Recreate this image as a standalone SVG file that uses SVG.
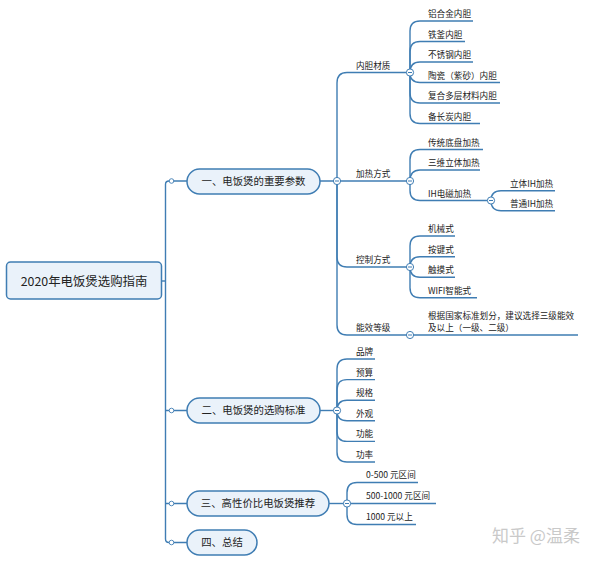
<svg xmlns="http://www.w3.org/2000/svg" width="600" height="561" viewBox="0 0 600 561">
<defs>
<style>
.ln{fill:none;stroke:#3f7db3;stroke-width:1.4}
.node{fill:#eaf2fa;stroke:#3f7db3;stroke-width:1.5}
.t{font-family:"Noto Sans CJK SC","Noto Sans",sans-serif;fill:#222}
.s{font-size:8.6px}
.m{font-size:10.4px}
.r{font-size:12.4px}
.c{fill:#fff;stroke:#3f7db3;stroke-width:1}
.mi{stroke:#3f7db3;stroke-width:1}
.d{fill:#fff;stroke:#3f7db3;stroke-width:0.9}
</style>
<g id="col"><circle class="c" cx="0" cy="0" r="3.6"/><line class="mi" x1="-2" y1="0" x2="2" y2="0"/></g>
</defs>
<rect width="600" height="561" fill="#fff"/>
<g id="connectors">
<path class="ln" d="M161.5,281 L165.5,281"/>
<path class="ln" d="M187,181 L169,181 Q165.5,181 165.5,184.5 L165.5,539 Q165.5,542.5 169,542.5 L187,542.5"/>
<path class="ln" d="M165.5,410.5 L187,410.5 M165.5,503.5 L187,503.5"/>
<path class="ln" d="M320,181 L410,181"/>
<path class="ln" d="M337,181 L337,83 Q337,72.5 347,72.5 L410,72.5"/>
<path class="ln" d="M337,181 L337,325 Q337,335 347,335 L578,335"/>
<path class="ln" d="M337,181 L337,257 Q337,267 347,267 L410,267"/>
<path class="ln" d="M410,72.5 L410,31 Q410,21 420,21 L473,21"/>
<path class="ln" d="M410,72.5 L410,51.5 Q410,41.5 420,41.5 L465,41.5"/>
<path class="ln" d="M410,72.5 Q410,62 420,62 L473,62"/>
<path class="ln" d="M410,72.5 Q410,82.5 420,82.5 L500,82.5"/>
<path class="ln" d="M410,72.5 L410,93 Q410,103 420,103 L500,103"/>
<path class="ln" d="M410,72.5 L410,113.5 Q410,123.5 420,123.5 L480,123.5"/>
<path class="ln" d="M410,181 L410,159.5 Q410,149.5 420,149.5 L483,149.5"/>
<path class="ln" d="M410,181 Q410,170 420,170 L480,170"/>
<path class="ln" d="M410,181 L410,190.5 Q410,200.5 420,200.5 L491,200.5"/>
<path class="ln" d="M491,200.5 Q491,190.7 501,190.7 L555,190.7"/>
<path class="ln" d="M491,200.5 Q491,210.7 501,210.7 L555,210.7"/>
<path class="ln" d="M410,267 L410,246 Q410,236 420,236 L455,236"/>
<path class="ln" d="M410,267 Q410,256.7 420,256.7 L455,256.7"/>
<path class="ln" d="M410,267 Q410,277.3 420,277.3 L455,277.3"/>
<path class="ln" d="M410,267 L410,287.7 Q410,297.7 420,297.7 L477,297.7"/>
<path class="ln" d="M320,410.5 L337,410.5"/>
<path class="ln" d="M337,410.5 L337,369 Q337,359 347,359 L375,359"/>
<path class="ln" d="M337,410.5 L337,389.6 Q337,379.6 347,379.6 L375,379.6"/>
<path class="ln" d="M337,410.5 Q337,400.2 347,400.2 L375,400.2"/>
<path class="ln" d="M337,410.5 Q337,420.8 347,420.8 L375,420.8"/>
<path class="ln" d="M337,410.5 L337,431.4 Q337,441.4 347,441.4 L375,441.4"/>
<path class="ln" d="M337,410.5 L337,452 Q337,462 347,462 L375,462"/>
<path class="ln" d="M329,503.5 L347,503.5"/>
<path class="ln" d="M347,503.5 L347,492.5 Q347,482.5 357,482.5 L418,482.5"/>
<path class="ln" d="M347,503.5 L436,503.5"/>
<path class="ln" d="M347,503.5 L347,514.5 Q347,524.5 357,524.5 L416,524.5"/>
<circle class="d" cx="171.5" cy="181" r="2.3"/>
<circle class="d" cx="171.5" cy="410.5" r="2.3"/>
<circle class="d" cx="171.5" cy="503.5" r="2.3"/>
<circle class="d" cx="171.5" cy="542.5" r="2.3"/>
<use href="#col" x="337" y="181"/>
<use href="#col" x="410" y="72.5"/>
<use href="#col" x="410" y="181"/>
<use href="#col" x="491" y="200.5"/>
<use href="#col" x="410" y="267"/>
<use href="#col" x="410" y="335"/>
<use href="#col" x="337" y="410.5"/>
<use href="#col" x="347" y="503.5"/>
</g>
<g id="root">
<rect class="node" x="6.5" y="262" width="155" height="37" rx="4"/>
<text class="t r" x="84" y="285.5" text-anchor="middle">2020年电饭煲选购指南</text>
</g>
<g id="n1">
<rect class="node" x="187" y="169" width="133" height="25" rx="12.5"/>
<text class="t m" x="253.5" y="185" text-anchor="middle">一、电饭煲的重要参数</text>
</g>
<g id="n2">
<rect class="node" x="187" y="398" width="133" height="25" rx="12.5"/>
<text class="t m" x="253.5" y="414.3" text-anchor="middle">二、电饭煲的选购标准</text>
</g>
<g id="n3">
<rect class="node" x="187" y="491" width="142" height="25" rx="12.5"/>
<text class="t m" x="258" y="507.3" text-anchor="middle">三、高性价比电饭煲推荐</text>
</g>
<g id="n4">
<rect class="node" x="187" y="530" width="70" height="25" rx="12.5"/>
<text class="t m" x="222" y="546.3" text-anchor="middle">四、总结</text>
</g>
<g id="l2">
<text class="t s" x="356" y="69">内胆材质</text>
<text class="t s" x="356" y="176.5">加热方式</text>
<text class="t s" x="356" y="263">控制方式</text>
<text class="t s" x="356" y="331.3">能效等级</text>
</g>
<g id="l3">
<text class="t s" x="428" y="17.2">铝合金内胆</text>
<text class="t s" x="428" y="37.6">铁釜内胆</text>
<text class="t s" x="428" y="58.1">不锈钢内胆</text>
<text class="t s" x="428" y="78.6">陶瓷（紫砂）内胆</text>
<text class="t s" x="428" y="99.2">复合多层材料内胆</text>
<text class="t s" x="428" y="119.5">备长炭内胆</text>
<text class="t s" x="428" y="145.5">传统底盘加热</text>
<text class="t s" x="428" y="166">三维立体加热</text>
<text class="t s" x="428" y="196.5">IH电磁加热</text>
<text class="t s" x="510" y="186.7">立体IH加热</text>
<text class="t s" x="510" y="206.7">普通IH加热</text>
<text class="t s" x="428" y="232.2">机械式</text>
<text class="t s" x="428" y="252.8">按键式</text>
<text class="t s" x="428" y="273.4">触摸式</text>
<text class="t s" x="428" y="293.8">WIFI智能式</text>
<text class="t s" x="428" y="319">根据国家标准划分，建议选择三级能效</text>
<text class="t s" x="428" y="330.5">及以上（一级、二级）</text>
</g>
<g id="l2b">
<text class="t s" x="356" y="355">品牌</text>
<text class="t s" x="356" y="375.6">预算</text>
<text class="t s" x="356" y="396.2">规格</text>
<text class="t s" x="356" y="416.8">外观</text>
<text class="t s" x="356" y="437.4">功能</text>
<text class="t s" x="356" y="458">功率</text>
<text class="t s" x="366" y="478.3">0-500 元区间</text>
<text class="t s" x="366" y="499.3">500-1000 元区间</text>
<text class="t s" x="366" y="520.3">1000 元以上</text>
</g>
<g id="watermark">
<text x="492" y="541.5" font-family="'Noto Sans CJK SC',sans-serif" font-size="17px" fill="#c9c9c9">知乎 @温柔</text>
</g>
</svg>
